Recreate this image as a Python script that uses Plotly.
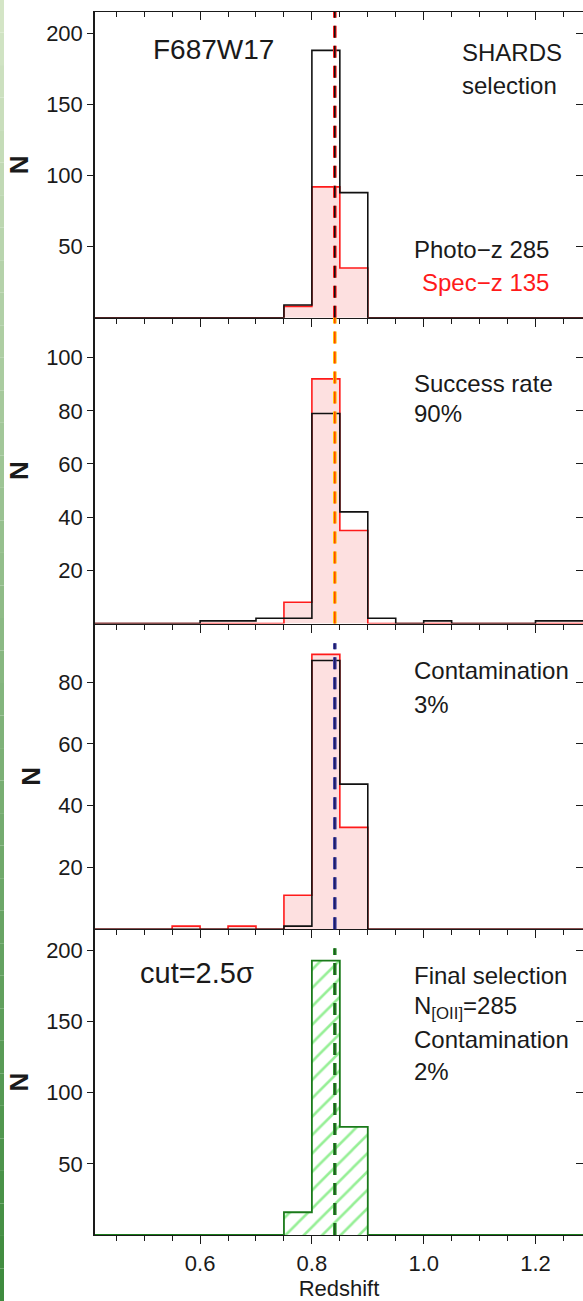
import plotly.graph_objects as go

# ---------------- data ----------------
bin_edges = [0.40, 0.45, 0.50, 0.55, 0.60, 0.65, 0.70, 0.75, 0.80, 0.85,
             0.90, 0.95, 1.00, 1.05, 1.10, 1.15, 1.20, 1.25, 1.30]

# panel 1: SHARDS selection
p1_photoz = [0, 0, 0, 0, 0, 0, 0, 9, 188, 88, 0, 0, 0, 0, 0, 0, 0, 0]
p1_specz = [0, 0, 0, 0, 0, 0, 0, 8, 92, 35, 0, 0, 0, 0, 0, 0, 0, 0]
# panel 2: success rate
p2_black = [0, 0, 0, 0, 1, 1, 2, 2, 79, 42, 2, 0, 1, 0, 0, 0, 1, 1]
p2_red = [0, 0, 0, 0, 0, 0, 0, 8, 92, 35, 0, 0, 0, 0, 0, 0, 0, 0]
# panel 3: contamination
p3_black = [0, 0, 0, 0, 0, 0, 0, 1, 87, 47, 0, 0, 0, 0, 0, 0, 0, 0]
p3_red = [0, 0, 0, 1, 0, 1, 0, 11, 89, 33, 0, 0, 0, 0, 0, 0, 0, 0]
# panel 4: final selection
p4_final = [0, 0, 0, 0, 0, 0, 0, 16, 193, 76, 0, 0, 0, 0, 0, 0, 0, 0]

z_line = 0.841
x_range = [0.412, 1.285]
y_ranges = [[0, 215], [0, 115], [0, 99], [0, 215]]
y_tickvals = [[50, 100, 150, 200], [20, 40, 60, 80, 100], [20, 40, 60, 80], [50, 100, 150, 200]]
x_tickvals = [0.6, 0.8, 1.0, 1.2]
x_ticktext = ["0.6", "0.8", "1.0", "1.2"]

# ---------------- style ----------------
W, H = 583, 1301
ML, MR, MT, MB = 95, 0, 12, 66
PW, PH = W - ML - MR, H - MT - MB
FONT = "Arial, Liberation Sans, sans-serif"
AX = "#1a1a1a"
domains = [[0.75, 1.0], [0.5, 0.75], [0.25, 0.5], [0.0, 0.25]]


def step(counts):
    xs = [bin_edges[0]] + bin_edges[:-1] + [bin_edges[-1], bin_edges[-1]]
    ys = [0] + list(counts) + [counts[-1], 0]
    return xs, ys


def px(x):
    return (x - ML) / PW


def py(y):
    return (MT + PH - y) / PH


fig = go.Figure()


def add_hist(counts, n, color, width, fill=None, pattern=None):
    xs, ys = step(counts)
    kw = dict(x=xs, y=ys, mode="lines", line=dict(color=color, width=width, shape="hv"),
              xaxis="x" if n == 1 else f"x{n}", yaxis="y" if n == 1 else f"y{n}",
              showlegend=False, hoverinfo="skip")
    if fill:
        kw.update(fill="tozeroy", fillcolor=fill)
    if pattern:
        kw.update(fill="tozeroy", fillcolor="rgba(255,255,255,0)", fillpattern=pattern)
    fig.add_trace(go.Scatter(**kw))


PINK = "#fde0e0"
add_hist(p1_specz, 1, "#ff1a1a", 1.6, fill=PINK)
add_hist(p1_photoz, 1, "#111111", 1.6)
add_hist(p2_red, 2, "#ff1a1a", 1.6, fill=PINK)
add_hist(p2_black, 2, "#111111", 1.6)
add_hist(p3_red, 3, "#ff1a1a", 1.6, fill=PINK)
add_hist(p3_black, 3, "#111111", 1.6)
add_hist(p4_final, 4, "#1a7a1a", 1.8,
         pattern=dict(shape="/", fgcolor="#2ee02e", bgcolor="rgba(255,255,255,0)",
                      size=13, solidity=0.2))

# empty traces to hold overlay axes (right ticks, top ticks)
for n in range(1, 5):
    fig.add_trace(go.Scatter(x=[], y=[], xaxis="x" if n == 1 else f"x{n}", yaxis=f"y{n + 4}",
                             showlegend=False, hoverinfo="skip"))
fig.add_trace(go.Scatter(x=[], y=[], xaxis="x5", yaxis="y", showlegend=False, hoverinfo="skip"))

lay = dict(width=W, height=H, margin=dict(l=ML, r=MR, t=MT, b=MB),
           paper_bgcolor="white", plot_bgcolor="white",
           font=dict(family=FONT, color=AX, size=22), showlegend=False)

xcommon = dict(range=x_range, showgrid=False, zeroline=False, showline=True,
               linecolor=AX, linewidth=1.4, ticks="outside", ticklen=8, tickwidth=1.4,
               tickcolor=AX, tickvals=x_tickvals, ticktext=x_ticktext,
               minor=dict(dtick=0.05, tick0=0.4, ticklen=5, tickwidth=1.2, tickcolor=AX,
                          ticks="outside"),
               tickfont=dict(size=22, family=FONT, color=AX))
for n in range(1, 5):
    k = "xaxis" if n == 1 else f"xaxis{n}"
    d = dict(xcommon, anchor="y" if n == 1 else f"y{n}", showticklabels=(n == 4),
             mirror=(n == 1))
    if n > 1:
        d["matches"] = "x"
    if n == 4:
        d["layer"] = "below traces"
        d["title"] = dict(text="Redshift", font=dict(size=22, family=FONT, color=AX), standoff=2)
    lay[k] = d

lay["xaxis5"] = dict(range=x_range, overlaying="x", side="top", anchor="y", showgrid=False,
                     zeroline=False, showline=False, ticks="inside", ticklen=8, tickwidth=1.4,
                     tickcolor=AX, tickvals=x_tickvals, showticklabels=False,
                     minor=dict(dtick=0.05, tick0=0.4, ticklen=5, tickwidth=1.2, tickcolor=AX,
                                ticks="inside"))

for n in range(1, 5):
    k = "yaxis" if n == 1 else f"yaxis{n}"
    lay[k] = dict(domain=domains[n - 1], range=y_ranges[n - 1], anchor="x" if n == 1 else f"x{n}",
                  showgrid=False, zeroline=False, showline=True, mirror=False, linecolor=AX,
                  linewidth=1.5, ticks="outside", ticklen=6, tickwidth=1.4, tickcolor=AX,
                  tickvals=y_tickvals[n - 1], tickfont=dict(size=22, family=FONT, color=AX),
                  title=dict(text="<b>N</b>", font=dict(size=26, family=FONT, color=AX),
                             standoff=10))
    lay[f"yaxis{n + 4}"] = dict(domain=domains[n - 1], range=y_ranges[n - 1],
                                overlaying="y" if n == 1 else f"y{n}", side="right",
                                anchor="x" if n == 1 else f"x{n}", showgrid=False,
                                zeroline=False, showline=False, ticks="inside", ticklen=7,
                                tickwidth=1.4, tickcolor=AX, tickvals=y_tickvals[n - 1],
                                showticklabels=False)

fig.update_layout(**lay)

# dashed reference lines (colored outer + dark core)
line_styles = [("#ff1a1a", "#111111", 1.0), ("#ffc400", "#ff4a00", 1.0),
               ("#4646a6", "#1c1c66", 0.935), ("#2f9a2f", "#1f5a1f", 0.938)]
for n, (outer, core, top) in enumerate(line_styles, start=1):
    xr = "x" if n == 1 else f"x{n}"
    yr = ("y" if n == 1 else f"y{n}") + " domain"
    for col, wd in ((outer, 3.6), (core, 1.6)):
        fig.add_shape(type="line", xref=xr, yref=yr, x0=z_line, x1=z_line, y0=0, y1=top,
                      line=dict(color=col, width=wd, dash="12px,8px"), layer="above")

# left decorative gradient strip
top_rgb = (214, 230, 200)
bot_rgb = (60, 138, 60)
nseg = 40
for i in range(nseg):
    t = (i + 0.5) / nseg
    c = tuple(int(round(a + (b - a) * t)) for a, b in zip(top_rgb, bot_rgb))
    fig.add_shape(type="rect", xref="paper", yref="paper",
                  x0=px(0), x1=px(4), y0=py(H * (i + 1) / nseg), y1=py(H * i / nseg),
                  fillcolor="rgb(%d,%d,%d)" % c, line=dict(width=0), layer="above")

# text labels: (text, x_px, y_px_center, xanchor, size, color)
texts = [
    ("F687W17", 151, 50, "left", 28, AX),
    ("SHARDS", 460, 52, "left", 24, AX),
    ("selection", 460, 86, "left", 24, AX),
    ("Photo\u2212z 285", 551, 249, "right", 24, AX),
    ("Spec\u2212z 135", 551, 283, "right", 24, "#ff1a1a"),
    ("Success rate", 412, 383, "left", 24, AX),
    ("90%", 412, 413, "left", 24, AX),
    ("Contamination", 412, 671, "left", 24, AX),
    ("3%", 412, 704, "left", 24, AX),
    ("cut=2.5\u03c3", 138, 973, "left", 29, AX),
    ("Final selection", 412, 975, "left", 24, AX),
    ("N<sub>[OII]</sub>=285", 412, 1007, "left", 24, AX),
    ("Contamination", 412, 1039, "left", 24, AX),
    ("2%", 412, 1071, "left", 24, AX),
]
for t, x, y, xa, s, c in texts:
    fig.add_annotation(text=t, xref="paper", yref="paper", x=px(x), y=py(y), xanchor=xa,
                       yanchor="middle", showarrow=False, font=dict(size=s, family=FONT, color=c))

fig.write_html("out.html")
